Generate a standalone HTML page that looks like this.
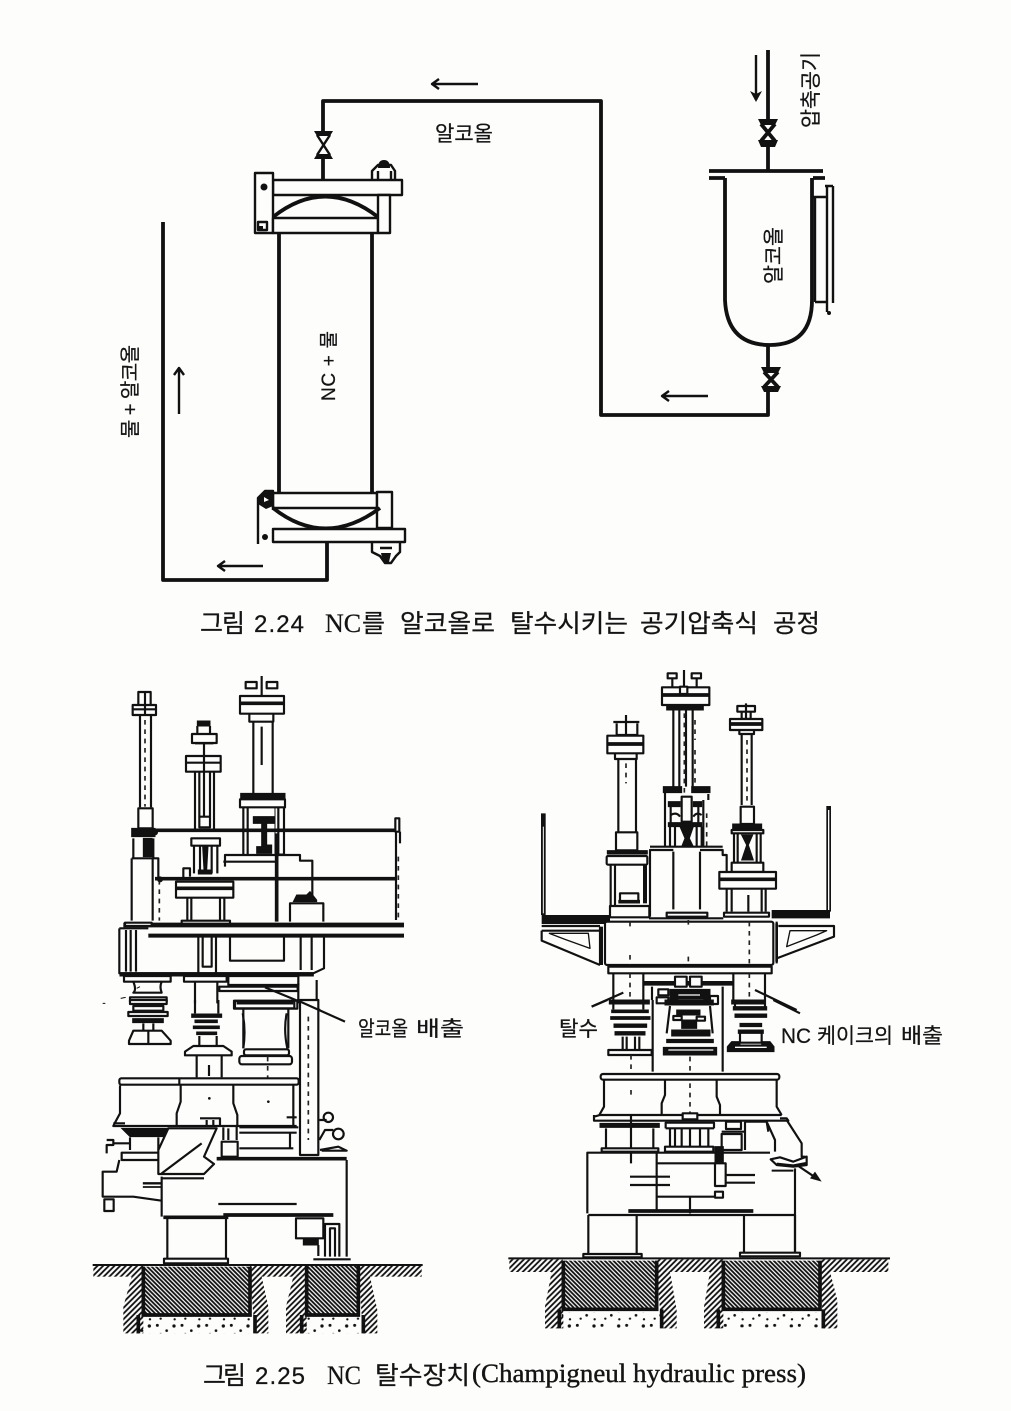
<!DOCTYPE html>
<html lang="ko"><head><meta charset="utf-8"><title>NC 탈수 공정</title>
<style>
html,body{margin:0;padding:0;background:#fdfdfc}
svg{display:block;position:absolute;left:0;top:0;filter:blur(.35px)}
.l{fill:none;stroke:#111;stroke-width:2.4;stroke-linejoin:round}
.t{stroke-width:3.8}
.w{fill:#fdfdfc;stroke:#111;stroke-width:2.4;stroke-linejoin:round}
.z{fill:none;stroke:#111;stroke-width:6.5;stroke-linejoin:round}
.zt{fill:none;stroke:#111;stroke-width:11}
.zw{fill:#fdfdfc;stroke:#111;stroke-width:6.5;stroke-linejoin:round}
.zd{fill:#111;stroke:#111;stroke-width:3}
.dash{fill:none;stroke:#222;stroke-width:5;stroke-dasharray:14 14}
.k{fill:#111}
text{fill:#141414;stroke:#141414;stroke-width:.25;font-family:"Liberation Sans","Noto Sans CJK KR",sans-serif}
.cap{font-size:25px;font-family:"Noto Sans CJK KR","Liberation Sans",sans-serif;font-weight:400}
.ser{font-family:"Liberation Serif","Noto Serif CJK SC",serif;font-size:26px}
.lab{font-size:21px;font-family:"Noto Sans CJK KR","Liberation Sans",sans-serif}
</style></head>
<body>
<svg width="1011" height="1411" viewBox="0 0 1011 1411" xmlns="http://www.w3.org/2000/svg">
<defs>
<pattern id="h1" width="13" height="13" patternUnits="userSpaceOnUse"><path d="M-3 -3L16 16M-3 10L3 16M10 -3L16 3" stroke="#111" stroke-width="5.5"/></pattern>
<pattern id="h2" width="17" height="17" patternUnits="userSpaceOnUse"><path d="M-3 20L20 -3M-3 3L3 -3M14 20L20 14" stroke="#111" stroke-width="5.5"/></pattern>
<pattern id="gr" width="74" height="46" patternUnits="userSpaceOnUse"><circle cx="10" cy="10" r="4.5" fill="#111"/><circle cx="38" cy="26" r="4" fill="#111"/><circle cx="60" cy="12" r="5" fill="#111"/><circle cx="20" cy="36" r="3.5" fill="#111"/><circle cx="62" cy="38" r="3.5" fill="#111"/></pattern>
</defs>
<rect width="1011" height="1411" fill="#fdfdfc"/>

<!-- FIGURE 2.24 -->
<g>
<path class="l t" d="M768 50V120M768 145V171M323 132V101H601V415H768V390M768 370V345"/>
<path class="l t" d="M323 158V180"/>
<path class="l t" d="M163 222V580H327V543"/>
<!-- valves -->
<path class="k" d="M314 131H333L330 136H317Z M314 159H333L330 154H317Z"/><path class="l" d="M317 135L330 155M330 135L317 155"/>
<path class="k" d="M758 119H778L775 125H761Z M761 147H775L778 140H758Z"/><path class="l t" d="M761 124L775 141M775 124L761 141"/>
<path class="k" d="M761 367H781L778 373H764Z M764 392H778L781 386H761Z"/><path class="l t" d="M764 372L778 387M778 372L764 387"/>
<!-- arrows -->
<g class="l"><path d="M432 84H478M439 79L432 84L439 89"/><path d="M662 396H708M669 391L662 396L669 401"/><path d="M218 566H263M225 561L218 566L225 571"/><path d="M179 414V368M174 375L179 368L184 375"/><path d="M756 55V100"/></g>
<path class="k" d="M750 91L756 102L762 91L756 94Z"/>
<!-- top clamp -->
<rect class="w" x="273" y="180" width="129" height="15"/><rect class="w" x="255" y="173" width="18" height="60"/>
<rect class="w" x="273" y="218" width="105" height="15"/><rect class="w" x="378" y="195" width="12" height="38"/>
<path class="l t" d="M273 217Q325 176 378 217"/>
<circle class="k" cx="264" cy="187" r="3.5"/><path class="l" d="M258 222h9v8h-9z"/><path class="k" d="M258 226h5v5h-5z"/>
<path class="l" d="M372 180V171L378 165H391L395 171V180M378 171V180M391 171V180"/><path class="k" d="M378 168q0-8 6-8t6 8z"/>
<!-- cylinder -->
<path class="l t" d="M279 233V493M372 233V493"/>
<!-- bottom clamp -->
<rect class="w" x="273" y="493" width="104" height="15"/><rect class="w" x="377" y="492" width="15" height="36"/>
<path class="l t" d="M273 508Q325 549 380 508"/>
<rect class="w" x="273" y="529" width="132" height="13"/>
<path class="l" d="M258 544V498L265 491H273V510"/><path class="k" d="M258 498l8-7 7 0v15l-7 3-8-5zM264 497l5 3-5 2z" fill-rule="evenodd"/>
<circle class="k" cx="265" cy="537" r="3"/>
<path class="l" d="M372 543V552L380 556L385 563H391L396 556L400 552V543M380 548H392"/><path class="k" d="M381 553h10l-2 9h-6z"/>
<!-- tank -->
<path class="l t" d="M709 171H823M709 178H725M813 178H825"/>
<path class="l t" d="M725 178V300Q727 345 770 345Q812 345 812 300V178"/>
<path class="l" d="M813 197H826M827 187V305M825 186H833M833 186V303M815 197V302M815 302H827M827 302V312"/>
<circle class="k" cx="829" cy="313" r="2"/>
<!-- labels -->
<text class="lab" x="435" y="141" textLength="58" lengthAdjust="spacingAndGlyphs">알코올</text>
<text class="lab" transform="translate(818 128) rotate(-90)" textLength="76" lengthAdjust="spacingAndGlyphs">압축공기</text>
<text class="lab" transform="translate(781 284) rotate(-90)" textLength="57" lengthAdjust="spacingAndGlyphs">알코올</text>
<text transform="translate(335 401) rotate(-90)" font-size="19" textLength="70" lengthAdjust="spacing">NC + 물</text>
<text transform="translate(137 438) rotate(-90)" font-size="20" textLength="93" lengthAdjust="spacing">물 + 알코올</text>
</g>

<!-- caption 1 -->
<text class="cap" x="200" y="632" textLength="45">그림</text>
<text x="254" y="632" font-size="24" textLength="50" lengthAdjust="spacing">2.24</text>
<text class="ser" x="325" y="632">NC</text><text class="cap" x="362" y="632" textLength="23">를</text>
<text class="cap" x="400" y="632" textLength="95" lengthAdjust="spacingAndGlyphs">알코올로</text>
<text class="cap" x="510" y="632" textLength="118" lengthAdjust="spacingAndGlyphs">탈수시키는</text>
<text class="cap" x="640" y="632" textLength="118" lengthAdjust="spacingAndGlyphs">공기압축식</text>
<text class="cap" x="773" y="632" textLength="47" lengthAdjust="spacingAndGlyphs">공정</text>

<!-- LEFT PRESS upper -->
<g transform="translate(80 670) scale(.33333)">
<!-- left column -->
<rect class="zw" x="175" y="66" width="37" height="40"/><rect class="zw" x="158" y="105" width="70" height="30"/><path class="z" d="M158 118H228M195 66V135"/>
<path class="z" d="M180 135V412M213 135V412"/><path class="dash" d="M195 150V410"/>
<rect class="zw" x="175" y="415" width="43" height="60"/>
<path class="zd" d="M155 475H225V500H155Z"/>
<path class="z" d="M160 505V565M220 505V565"/><path class="zd" d="M190 505H216V560H190Z"/>
<path class="z" d="M155 565V752M218 565V752M155 565H235V625"/><path class="dash" d="M238 630V752"/>
<!-- middle column -->
<path class="zd" d="M352 153H390V168H352Z"/><path class="z" d="M352 168V190M390 168V190"/>
<rect class="zw" x="336" y="192" width="74" height="27"/><path class="z" d="M345 220H400"/>
<rect class="zw" x="318" y="258" width="104" height="47"/><path class="z" d="M318 278H422M372 220V440"/>
<path class="z" d="M345 305V480M358 305V440M390 305V440M402 305V480"/>
<rect class="zw" x="358" y="440" width="32" height="32"/>
<rect class="zw" x="334" y="505" width="86" height="22"/><path class="z" d="M342 527V610M360 527V610M395 527V610M412 527V610"/>
<path class="zd" d="M368 530H384L380 600H395V612H355V600H372Z"/>
<path class="z" d="M310 625V595H330V620"/>
<rect class="zw" x="288" y="635" width="172" height="48"/><path class="zt" d="M288 655H460"/>
<path class="z" d="M322 683V750M334 683V750M420 683V750M433 683V750"/>
<path class="z" d="M305 760V752H450V760"/>
<!-- right column -->
<path class="z" d="M545 18V78M497 36H530V55H497ZM560 36H592V55H560Z"/>
<rect class="zw" x="480" y="78" width="132" height="53"/><path class="zt" d="M480 100H612"/>
<path class="z" d="M508 131V155H580V131"/>
<path class="z" d="M520 155V372M578 155V372M545 170V285"/>
<path class="zd" d="M482 370H615V386H482Z"/><rect class="zw" x="480" y="388" width="135" height="24"/>
<path class="z" d="M490 412V552M503 412V552M595 412V552M612 412V552"/><path class="zd" d="M585 412H612V552H585Z" style="fill:none"/>
<path class="zd" d="M520 440H585V460H560V525H575V550H530V530H545V460H520Z"/>
<path class="z" d="M435 590V555H660V572H697V625"/>
<path class="z" d="M430 575H590"/>
<path class="zt" d="M590 490V755"/>
<path class="z" d="M697 625V690M630 755V700H730V755"/><path class="zd" d="M640 695L650 675H680L690 665L710 690V695Z"/>
<!-- rails -->
<path class="zt" d="M220 481H948"/><path class="zt" d="M225 626H948"/>
<rect class="zw" x="946" y="445" width="12" height="40"/><path class="z" d="M960 485V520"/><path class="dash" d="M955 560V750"/><path class="z" d="M948 485V750"/>
<circle class="k" cx="225" cy="487" r="9"/><circle class="k" cx="240" cy="628" r="9"/>
<!-- floor -->
<path class="zt" d="M130 765H972" style="stroke-width:14"/><path class="zt" d="M205 797H972" style="stroke-width:12"/>
<rect class="zw" x="135" y="758" width="80" height="10"/>
<!-- main block -->
<path class="z" d="M118 775V910H700L732 895V797M118 775H205"/>
<path class="z" d="M138 780V905M152 780V905M168 780V905"/>
<path class="z" d="M355 800V908M368 800V890H395V800M408 800V908" />
<path class="z" d="M450 800V872H612V800"/>
<path class="z" d="M662 800V900M695 800V900"/>
<path class="zd" d="M120 908H700V918H120Z"/>
<rect class="zw" x="132" y="918" width="140" height="17"/><rect class="zw" x="312" y="918" width="128" height="17"/>
<rect class="zw" x="445" y="918" width="210" height="27"/><rect class="zw" x="418" y="950" width="235" height="13"/>
<path class="z" d="M160 935Q170 960 160 968H245Q238 950 245 935"/>
<path class="z" d="M345 935V1000M412 935V1000M655 940V1000M710 930V1000"/>
<rect class="zw" x="150" y="982" width="110" height="14"/>
<path class="zd" d="M122 985l15-3M170 955l10-5M68 1000h8"/>
<rect class="zw" x="462" y="992" width="190" height="24"/>
<path class="z" d="M555 952L720 1020"/>
</g>

<!-- LEFT PRESS lower -->
<g transform="translate(80 1000) scale(.33333)">
<!-- left stack -->
<rect class="zw" x="150" y="0" width="110" height="12"/><rect class="zw" x="160" y="18" width="90" height="14"/><rect class="zw" x="145" y="36" width="118" height="12"/>
<path class="zd" d="M158 56H250V68H158Z"/>
<path class="z" d="M190 70V95M220 70V95"/>
<path class="zw" d="M160 92H245L272 122V132H147V122Z"/><path class="z" d="M205 92V130"/>
<!-- mid stack -->
<path class="z" d="M345 0V40M415 0V40"/>
<path class="zd" d="M335 42H425V52H335Z"/><path class="zd" d="M345 60H412V68H345Z"/><path class="zd" d="M340 78H418V86H340Z"/><path class="zd" d="M350 96H410V104H350Z"/>
<path class="z" d="M358 108V138M410 108V138"/><path class="zw" d="M340 138H430L455 155V166H315V155Z"/>
<path class="z" d="M350 168V232M425 168V232M387 195V228"/>
<!-- right stack -->
<rect class="zw" x="465" y="3" width="178" height="22"/><path class="zt" d="M470 8H640"/>
<path class="z" d="M490 28V145M625 28V145"/>
<path class="z" d="M488 40Q498 90 490 145M620 40Q610 90 622 145"/>
<rect class="zw" x="492" y="148" width="135" height="18" rx="6"/><rect class="zw" x="478" y="168" width="158" height="25" rx="8"/>
<path class="dash" d="M563 170V235"/>
<!-- tall column -->
<rect class="zw" x="660" y="0" width="55" height="465"/><path class="dash" d="M685 50V420"/>
<path class="z" d="M650 0L795 65"/>
<!-- barrel -->
<rect class="zw" x="118" y="235" width="538" height="19" rx="6"/>
<path class="z" d="M298 236V254"/>
<path class="z" d="M120 256V340L105 368L100 378H650"/>
<path class="z" d="M302 256V305L290 340V375M460 256V310L472 345V375M640 256V375"/>
<path class="z" d="M100 370H135M620 352H650"/>
<circle class="k" cx="388" cy="295" r="4"/><circle class="k" cx="565" cy="305" r="4"/>
<!-- below barrel -->
<path class="zd" d="M125 385H262L250 410H150Z"/>
<path class="z" d="M150 412V450M235 412V450"/>
<rect class="zw" x="125" y="458" width="112" height="22"/>
<path class="z" d="M150 430H100M80 420H100V435H80V460"/>
<path class="z" d="M118 480L110 515H68V590H160L245 602"/>
<rect class="zw" x="73" y="598" width="28" height="35"/>
<path class="zd" d="M190 548H245V552H190ZM190 560H245V562H190Z"/>
<path class="zw" d="M265 385H410L372 470L402 492L372 522H235L235 450Z"/>
<path class="z" d="M245 520L365 430"/>
<path class="z" d="M360 355H420V378M380 360V378M400 360V378"/>
<rect class="zw" x="425" y="425" width="48" height="45"/>
<path class="z" d="M430 382V420M445 385V420M470 380V420"/>
<path class="z" d="M478 382H655M478 398H650M478 445H640M630 398V445"/>
<path class="zt" d="M410 476H800"/>
<!-- pipework right -->
<circle class="zw" cx="745" cy="352" r="14"/><circle class="zw" cx="775" cy="402" r="16"/>
<path class="z" d="M718 360H740M718 420L735 390H760M720 450L775 440L800 452H725"/>
<!-- base -->
<path class="z" d="M245 530V650M800 480V770M245 535H372"/>
<path class="z" d="M415 612H650"/>
<path class="zt" d="M250 652H445M430 645H760"/>
<!-- pier -->
<path class="z" d="M262 655V775M438 655V775"/><rect class="zw" x="252" y="776" width="192" height="14"/>
<rect class="zw" x="648" y="655" width="82" height="60"/><path class="zd" d="M670 718H715V735H670Z"/>
<path class="z" d="M735 770V672H778V770M750 770V685H765V770M715 735V768"/>
<path class="z" d="M700 778H812"/>
<!-- ground -->
<path class="zt" d="M38 795H1028" style="stroke-width:6"/>
<rect x="40" y="798" width="150" height="32" fill="url(#h2)"/>
<rect x="510" y="798" width="170" height="32" fill="url(#h2)"/>
<rect x="835" y="798" width="190" height="32" fill="url(#h2)"/>
<path d="M155 830H190V1000H130V920ZM510 830H545L565 920V1000H525Z" fill="url(#h2)"/>
<path d="M640 830H680V1000H618V920ZM835 830H870L892 930V1000H850Z" fill="url(#h2)"/>
<rect x="190" y="800" width="320" height="143" fill="url(#h1)"/><rect x="680" y="798" width="155" height="145" fill="url(#h1)"/>
<path class="zt" d="M190 800V945H510V800M680 798V945H835V798M175 945V1000M525 945V1000M665 945V1000M850 945V1000"/>
<rect x="180" y="950" width="340" height="50" fill="url(#gr)"/><rect x="670" y="950" width="178" height="50" fill="url(#gr)"/>
</g>

<text class="lab" x="358" y="1036" textLength="50" lengthAdjust="spacingAndGlyphs" font-size="22">알코올</text>
<text class="lab" x="416" y="1036" textLength="48" lengthAdjust="spacingAndGlyphs">배출</text>

<!-- RIGHT PRESS upper -->
<g transform="translate(500 670) scale(.33333)">
<!-- left column -->
<path class="z" d="M340 156H418M378 135V195M350 160V195H412V160"/>
<rect class="zw" x="322" y="197" width="108" height="53"/><path class="zt" d="M322 222H430"/>
<path class="z" d="M345 250V267H410V250M355 267V485M408 267V485"/><path class="dash" d="M378 280V340"/>
<rect class="zw" x="348" y="487" width="64" height="54"/>
<path class="zd" d="M322 542H442V552H322Z"/><rect class="zw" x="320" y="558" width="122" height="26" rx="4"/>
<path class="z" d="M332 585V708M345 585V708"/><path class="zt" d="M435 585V700" style="stroke-width:12"/>
<path class="z" d="M360 695V670H415V695"/><path class="zt" d="M355 695H420"/>
<rect class="zw" x="330" y="708" width="118" height="34"/>
<!-- center column -->
<path class="z" d="M552 0V50M503 10H530V25H503ZM575 10H603V25H575Z"/><path class="z" d="M517 25V50M590 25V50"/>
<rect class="zw" x="486" y="52" width="142" height="53"/><path class="zt" d="M486 75H628"/>
<rect class="zw" x="540" y="50" width="22" height="22"/>
<path class="zd" d="M500 105H610V120H500Z"/>
<path class="z" d="M520 120V350M538 120V350M558 120V350M578 120V350"/>
<path class="dash" d="M585 150V210M585 240V340M553 130V370"/>
<path class="zd" d="M490 350H545V368H490ZM575 350H630V368H575Z"/>
<path class="z" d="M495 368V530M625 372V390M610 390V530"/>
<rect class="zw" x="545" y="380" width="30" height="75"/>
<path class="zd" d="M505 395H540V410H505ZM580 395H605V410H580Z"/>
<path class="z" d="M512 410V460M595 410V460"/>
<path class="z" d="M512 435Q530 425 540 440M580 440Q590 425 605 435"/>
<path class="zd" d="M505 458H605V470H505Z"/>
<path class="z" d="M510 470V530M525 470V530M590 470V530M605 470V530"/>
<path class="zd" d="M540 470H580L568 505L580 530H545L555 505Z"/>
<path class="dash" d="M620 430V530"/>
<!-- right column -->
<path class="z" d="M712 108H765V125H712ZM738 100V145M725 125V147H752V125"/>
<path class="zw" d="M690 147H787V180H690Z"/><path class="zt" d="M690 162H787"/>
<path class="z" d="M718 180V192H762V180M725 192V405M755 192V405"/><path class="dash" d="M741 210V400"/>
<rect class="zw" x="722" y="410" width="40" height="52"/>
<path class="zd" d="M698 462H785V480H698Z"/><rect class="zw" x="695" y="480" width="95" height="10"/>
<path class="z" d="M702 490V578M713 490V578M770 490V578M782 490V578"/>
<path class="zd" d="M725 495H758L745 525L760 570H725L740 525Z"/>
<rect class="zw" x="695" y="578" width="95" height="28"/>
<rect class="zw" x="658" y="606" width="170" height="50"/><path class="zt" d="M658 628H828"/>
<path class="z" d="M680 656V725M695 656V725M785 656V725M797 656V725M745 675V725"/>
<rect class="zw" x="672" y="728" width="135" height="12"/>
<!-- center box -->
<path class="z" d="M450 740V540H520M520 545V718M600 545V718M600 540H668V555H680V606"/>
<path class="z" d="M450 530H668"/>
<rect class="zw" x="500" y="728" width="122" height="12"/>
<path class="z" d="M447 745H670"/>
<!-- floor and rails -->
<path class="k" d="M125 735H330V762H125ZM815 720H990V745H815Z"/>
<path class="zt" d="M130 430V735" style="stroke-width:14"/><path class="zt" d="M986 408V725" style="stroke-width:14"/><path d="M986 420V720" stroke="#fdfdfc" stroke-width="4"/>
<path d="M130 470V730" stroke="#fdfdfc" stroke-width="3"/>
<!-- main block -->
<rect class="zw" x="315" y="755" width="505" height="130" rx="6"/>
<path class="dash" d="M390 755V775M390 855V885M565 750V775M565 860V885M748 755V880"/>
<!-- brackets -->
<path class="z" d="M125 782H300M125 782V812L300 885M300 770V885M125 768H300"/>
<path class="z" d="M148 790L265 790L270 835L195 808Z" style="stroke-width:4"/>
<path class="z" d="M835 768H1002V800L830 865M830 755V880"/>
<path class="z" d="M980 782L870 782L860 830L950 795Z" style="stroke-width:4"/>
<path class="zt" d="M305 770V885" style="stroke-width:8"/><path class="zt" d="M830 760V875" style="stroke-width:8"/>
<!-- below block -->
<rect class="zw" x="325" y="890" width="490" height="20"/>
<path class="z" d="M340 910V990M430 910V990M700 910V990M795 910V990"/>
<path class="dash" d="M390 910V990M748 910V990"/>
<path class="zt" d="M430 940H700" style="stroke-width:14"/>
<rect class="zw" x="525" y="920" width="35" height="30"/><rect class="zw" x="570" y="920" width="35" height="30"/>
<rect class="zw" x="475" y="958" width="30" height="18"/><rect class="zw" x="470" y="982" width="35" height="18"/>
<path class="zd" d="M510 958H630V1005H510Z"/><path d="M535 975H600M535 990H610" stroke="#fdfdfc" stroke-width="4"/>
<rect class="zw" x="630" y="978" width="24" height="24"/>
<path class="z" d="M456 950V990M668 950V990"/>
<path class="z" d="M275 1010L370 968M765 960L890 1020"/>
</g>

<!-- RIGHT PRESS lower -->
<g transform="translate(500 1000) scale(.33333)">
<path class="z" d="M275 20L322 0M820 0L900 40"/>
<path class="zd" d="M328 0H448V12H328Z"/><path class="zd" d="M695 0H795V12H695Z"/>
<path class="z" d="M340 0V28M430 0V28M705 0V20M795 0V20"/>
<!-- left stack -->
<g>
<path class="zd" d="M335 30H445V38H335ZM332 50H450V58H332ZM342 72H440V82H342ZM345 95H435V105H345Z"/>
<path class="z" d="M368 110V150M380 110V150M405 110V150M418 110V150"/>
<rect class="zw" x="325" y="150" width="130" height="15"/>
<path class="dash" d="M393 165V235"/>
</g>
<!-- center -->
<path class="z" d="M458 0V215M668 0V215"/>
<path class="zd" d="M495 0H640V15H495Z"/>
<path class="z" d="M510 18L500 100M630 18L638 100"/>
<path class="zd" d="M530 30H600V45H530ZM545 60H590V85H545ZM515 90H630V108H515Z"/>
<rect class="zw" x="520" y="48" width="25" height="12"/><rect class="zw" x="590" y="50" width="25" height="12"/>
<path class="zd" d="M500 118H640V128H500ZM490 142H650V165H490Z"/>
<path d="M510 135H630" stroke="#fdfdfc" stroke-width="6"/><path d="M505 150H640" stroke="#fdfdfc" stroke-width="4"/>
<path class="dash" d="M570 170V225"/>
<!-- right stack -->
<path class="zd" d="M700 20H800V30H700ZM705 42H800V52H705ZM720 70H785V80H720ZM715 90H790V100H715Z"/>
<path class="z" d="M720 100V128H785V100"/>
<path class="zd" d="M695 125L720 125L720 135H785V125L810 125L822 140V155H682V140Z"/><path d="M705 142H800" stroke="#fdfdfc" stroke-width="4"/>
<!-- barrel -->
<rect class="zw" x="302" y="222" width="536" height="17" rx="7"/>
<path class="z" d="M312 240V320L298 345M830 240V320L845 345"/>
<path class="z" d="M495 240V285L485 310V345M650 240V290L660 315V345"/>
<path class="dash" d="M393 270V285M570 250V345"/>
<path class="z" d="M282 345V362H865L860 355H840M282 350L300 345H845"/>
<!-- below barrel -->
<path class="zd" d="M300 370H478V382H300Z"/>
<path class="z" d="M318 385V445M460 385V445M393 345V490"/>
<rect class="zw" x="305" y="445" width="170" height="10"/>
<path class="z" d="M497 385V368H642V385M497 385H642M510 385V440M525 385V440M545 385V440M570 385V440M600 385V440M625 385V440"/>
<rect class="zw" x="495" y="440" width="145" height="15"/><rect class="zw" x="548" y="340" width="44" height="18"/>
<rect class="zw" x="678" y="365" width="45" height="22"/><rect class="zw" x="665" y="402" width="60" height="48"/><path class="z" d="M665 395H735M735 365V450"/>
<!-- chute -->
<path class="z" d="M735 365H800L825 420V455M800 365L805 395M860 360L905 430V470H915V490"/>
<path class="zw" d="M812 478L840 472L880 485L920 470V495L880 500L830 495Z"/><path class="zt" d="M830 492L880 497L918 490" style="stroke-width:8"/>
<path class="zt" d="M815 512H880" style="stroke-width:6"/>
<path class="z" d="M895 498L950 535"/><path class="k" d="M965 545L930 535L945 515Z"/>
<!-- base -->
<path class="z" d="M262 640V458H810M885 505V760M470 460V630"/>
<path class="z" d="M470 490H645M470 590H645M570 590V640"/>
<rect class="zw" x="645" y="490" width="32" height="68"/><rect class="zw" x="645" y="575" width="24" height="18"/>
<path class="zd" d="M645 440H670V490H645Z"/>
<path class="z" d="M390 530H510M390 555H510M678 525H765M678 548H765"/>
<path class="zt" d="M385 633H760"/><path class="z" d="M265 645H885"/>
<!-- piers -->
<path class="z" d="M265 645V760M410 645V760M732 645V760M885 645V760"/>
<rect class="zw" x="250" y="762" width="175" height="10"/><rect class="zw" x="720" y="758" width="180" height="11"/>
<!-- ground -->
<path class="zt" d="M25 775H1170" style="stroke-width:6"/>
<rect x="28" y="778" width="160" height="38" fill="url(#h2)"/>
<rect x="472" y="778" width="198" height="38" fill="url(#h2)"/>
<rect x="960" y="778" width="205" height="38" fill="url(#h2)"/>
<path d="M155 815H190V985H135V920ZM470 815H510L530 930V985H485Z" fill="url(#h2)"/>
<path d="M630 815H670V985H612V920ZM960 815H990L1012 900V985H970Z" fill="url(#h2)"/>
<rect x="190" y="782" width="280" height="143" fill="url(#h1)"/><rect x="670" y="782" width="290" height="143" fill="url(#h1)"/>
<path class="zt" d="M190 782V928H470V782M670 782V928H960V782M178 928V985M485 928V985M655 928V985M970 928V985"/>
<rect x="185" y="937" width="295" height="50" fill="url(#gr)"/><rect x="665" y="937" width="300" height="45" fill="url(#gr)"/>
</g>

<!-- labels press -->
<text class="lab" x="559" y="1036" textLength="39" lengthAdjust="spacingAndGlyphs" font-size="22">탈수</text>
<text x="781" y="1043" font-size="21" textLength="30" lengthAdjust="spacingAndGlyphs">NC</text>
<text class="lab" x="817" y="1043" textLength="76" lengthAdjust="spacingAndGlyphs">케이크의</text>
<text class="lab" x="901" y="1043" textLength="42" lengthAdjust="spacingAndGlyphs">배출</text>

<!-- caption 2 -->
<text class="cap" x="203" y="1384" textLength="43">그림</text>
<text x="255" y="1384" font-size="24" textLength="50" lengthAdjust="spacing">2.25</text>
<text class="ser" x="327" y="1384" textLength="34" lengthAdjust="spacingAndGlyphs">NC</text>
<text class="cap" x="375" y="1384" textLength="95" lengthAdjust="spacingAndGlyphs">탈수장치</text>
<text class="ser" x="472" y="1382" textLength="334" lengthAdjust="spacingAndGlyphs" style="stroke-width:.4">(Champigneul hydraulic press)</text>
</svg>
</body></html>
